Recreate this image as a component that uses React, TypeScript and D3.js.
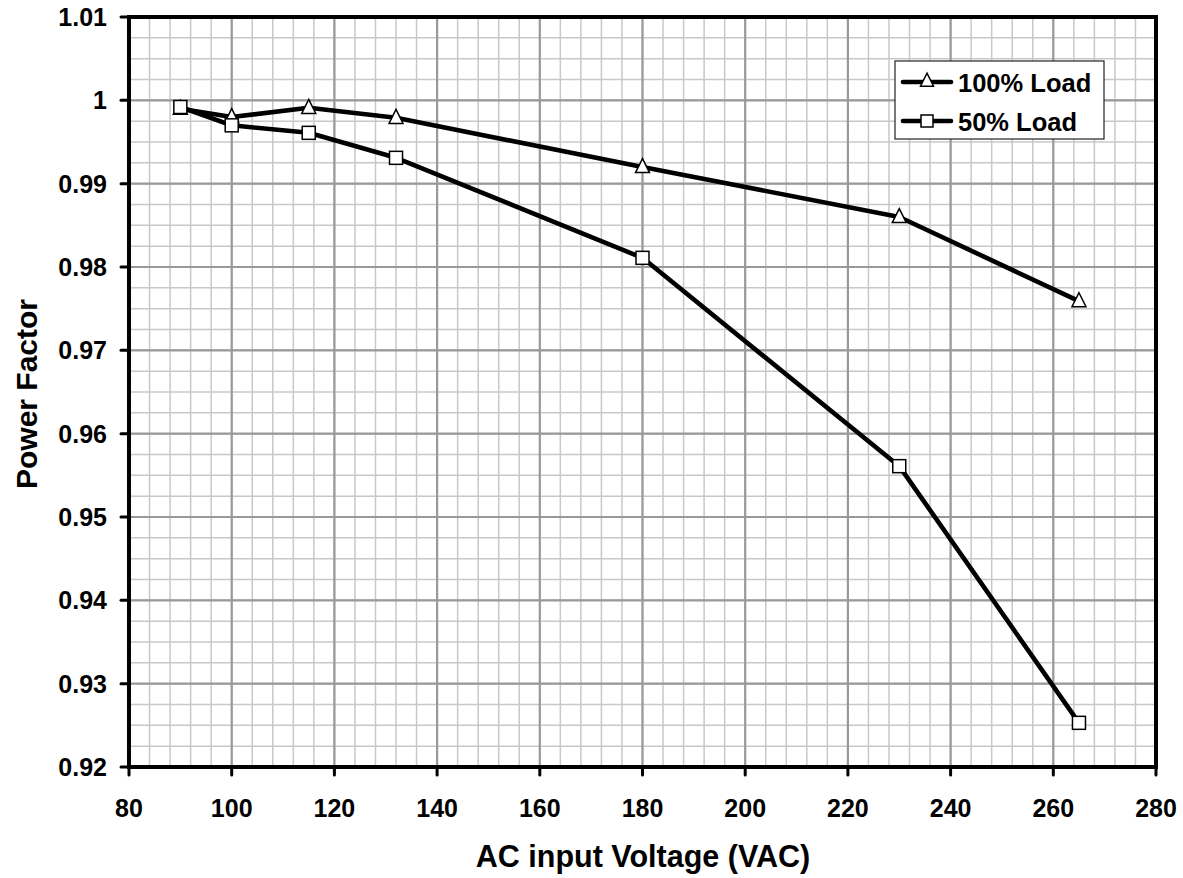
import React from "react";
import * as d3 from "d3";

const voltages = [90, 100, 115, 132, 180, 230, 265];
const pf100 = [0.999, 0.998, 0.9991, 0.9979, 0.992, 0.986, 0.9759];
const pf50 = [0.9992, 0.997, 0.9961, 0.9931, 0.9811, 0.9561, 0.9253];
const xTicks = [80, 100, 120, 140, 160, 180, 200, 220, 240, 260, 280];
const yTicks = [0.92, 0.93, 0.94, 0.95, 0.96, 0.97, 0.98, 0.99, 1, 1.01];
const seriesNames = ["100% Load", "50% Load"];

const W = 1183, H = 878;
const L = 129, R = 1156, T = 17, B = 767;
const font = "'Liberation Sans', Arial, sans-serif";

export default function App() {
  const x = d3.scaleLinear().domain([80, 280]).range([L, R]);
  const y = d3.scaleLinear().domain([0.92, 1.01]).range([B, T]);
  const minorX = d3.range(80, 280.01, 4);
  const minorY = d3.range(0, 37).map((i) => 0.92 + i * 0.0025);
  const line = d3.line<number>().x((d, i) => x(voltages[i])).y((d) => y(d));

  const tri = (cx: number, cy: number, s = 14) =>
    `M${cx},${cy - s * 0.6} L${cx + s / 2},${cy + s * 0.4} L${cx - s / 2},${cy + s * 0.4} Z`;

  return (
    <svg width={W} height={H} style={{ position: "absolute", left: 0, top: 0, background: "#fff" }}>
      <rect x={0} y={0} width={W} height={H} fill="#fff" />
      {minorX.map((v) => (
        <line key={"mx" + v} x1={x(v)} x2={x(v)} y1={T} y2={B} stroke="#c8c8c8" strokeWidth={1.5} />
      ))}
      {minorY.map((v, i) => (
        <line key={"my" + i} x1={L} x2={R} y1={y(v)} y2={y(v)} stroke="#c8c8c8" strokeWidth={1.5} />
      ))}
      {xTicks.map((v) => (
        <line key={"gx" + v} x1={x(v)} x2={x(v)} y1={T} y2={B} stroke="#999" strokeWidth={2.2} />
      ))}
      {yTicks.map((v) => (
        <line key={"gy" + v} x1={L} x2={R} y1={y(v)} y2={y(v)} stroke="#999" strokeWidth={2.2} />
      ))}
      <rect x={L} y={T} width={R - L} height={B - T} fill="none" stroke="#000" strokeWidth={4} />
      {xTicks.map((v) => (
        <g key={"tx" + v}>
          <line x1={x(v)} x2={x(v)} y1={B} y2={B + 8} stroke="#000" strokeWidth={3} strokeLinecap="round" />
          <text x={x(v)} y={817} textAnchor="middle" fontFamily={font} fontWeight="bold" fontSize={25}>
            {v}
          </text>
        </g>
      ))}
      {yTicks.map((v) => (
        <g key={"ty" + v}>
          <line x1={L - 8} x2={L} y1={y(v)} y2={y(v)} stroke="#000" strokeWidth={3} strokeLinecap="round" />
          <text x={107} y={y(v) + 9} textAnchor="end" fontFamily={font} fontWeight="bold" fontSize={25}>
            {String(v)}
          </text>
        </g>
      ))}
      <path d={line(pf100) || ""} fill="none" stroke="#000" strokeWidth={4.6} strokeLinejoin="round" />
      <path d={line(pf50) || ""} fill="none" stroke="#000" strokeWidth={4.6} strokeLinejoin="round" />
      {pf100.map((v, i) => (
        <path key={"t" + i} d={tri(x(voltages[i]), y(v))} fill="#fff" stroke="#000" strokeWidth={1.5} />
      ))}
      {pf50.map((v, i) => (
        <rect key={"s" + i} x={x(voltages[i]) - 6.5} y={y(v) - 6.5} width={13} height={13} fill="#fff" stroke="#000" strokeWidth={1.5} />
      ))}
      <text x={643} y={867} textAnchor="middle" fontFamily={font} fontWeight="bold" fontSize={30.5}>
        AC input Voltage (VAC)
      </text>
      <text transform={`translate(37, 394) rotate(-90)`} textAnchor="middle" fontFamily={font} fontWeight="bold" fontSize={30}>
        Power Factor
      </text>
      <g>
        <rect x={895} y={61} width={209} height={78} fill="#fff" stroke="#222" strokeWidth={1.2} />
        {seriesNames.map((name, i) => {
          const cy = i === 0 ? 82 : 121;
          return (
            <g key={name}>
              <line x1={903} x2={951} y1={cy} y2={cy} stroke="#000" strokeWidth={4.6} strokeLinecap="round" />
              {i === 0 ? (
                <path d={tri(927, cy - 1, 13)} fill="#fff" stroke="#000" strokeWidth={1.5} />
              ) : (
                <rect x={921} y={cy - 6} width={12} height={12} fill="#fff" stroke="#000" strokeWidth={1.5} />
              )}
              <text x={958} y={cy + 10} fontFamily={font} fontWeight="bold" fontSize={25.5}>
                {name}
              </text>
            </g>
          );
        })}
      </g>
    </svg>
  );
}
